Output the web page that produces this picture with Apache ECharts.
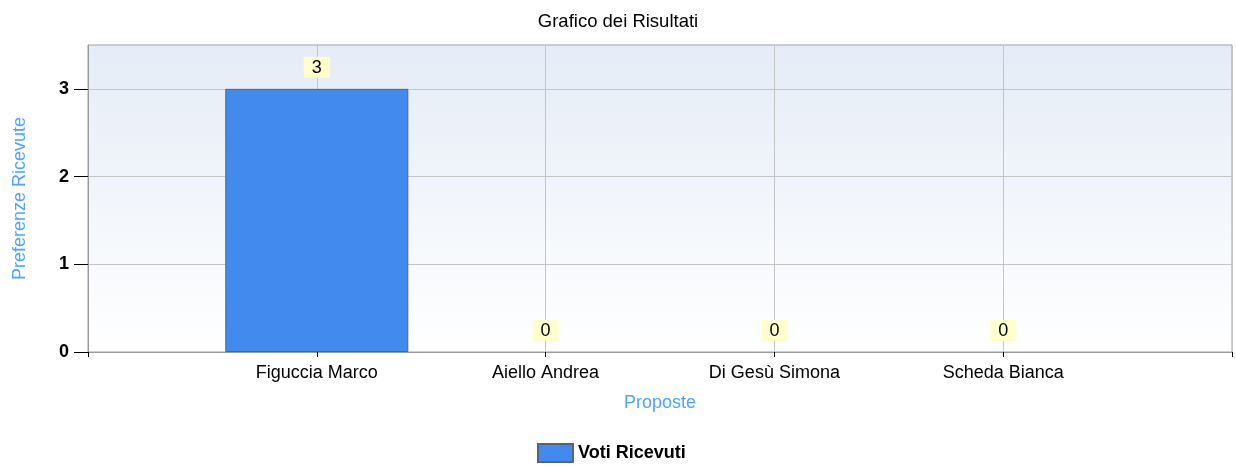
<!DOCTYPE html>
<html>
<head>
<meta charset="utf-8">
<script src="https://cdn.jsdelivr.net/npm/echarts@6/dist/echarts.min.js"></script>
<style>
html,body{margin:0;padding:0;background:#fff;}
#chart{width:1236px;height:468px;}
</style>
</head>
<body>
<div id="chart"></div>
<script>
const chartTitle = 'Grafico dei Risultati';
const categories = ['', 'Figuccia Marco', 'Aiello Andrea', 'Di Gesù Simona', 'Scheda Bianca', ''];
const values = [null, 3, 0, 0, 0, null];
const seriesName = 'Voti Ricevuti';
const yTicks = [0, 1, 2, 3];

const FONT = '"Liberation Sans", Arial, sans-serif';
const chart = echarts.init(document.getElementById('chart'), null, {renderer: 'canvas'});
chart.setOption({
  animation: false,
  title: {
    text: chartTitle,
    left: 'center',
    top: 7,
    textStyle: {fontFamily: FONT, fontSize: 18.5, fontWeight: 'normal', color: '#000'}
  },
  legend: {
    left: 537,
    top: 443,
    padding: 0,
    icon: 'rect',
    itemWidth: 35,
    itemHeight: 18,
    itemGap: 10,
    textStyle: {fontFamily: FONT, fontSize: 18, fontWeight: 'bold', color: '#000'},
    data: [seriesName]
  },
  grid: {
    left: 88, top: 45, right: 4, bottom: 116,
    outerBoundsMode: 'none',
    containLabel: false,
    show: true,
    borderColor: '#a0a0a0',
    borderWidth: 1,
    backgroundColor: new echarts.graphic.LinearGradient(0, 0, 0, 1, [
      {offset: 0, color: '#e5ecf7'},
      {offset: 1, color: '#ffffff'}
    ])
  },
  xAxis: {
    type: 'category',
    data: categories,
    boundaryGap: false,
    name: 'Proposte',
    nameLocation: 'middle',
    nameGap: 42,
    nameTextStyle: {fontFamily: FONT, fontSize: 18, color: '#4da3ff'},
    axisLine: {lineStyle: {color: '#999999'}},
    axisTick: {show: true, length: 5, lineStyle: {color: '#000'}, alignWithLabel: true},
    axisLabel: {fontFamily: FONT, fontSize: 18, color: '#000', margin: 12, interval: 0},
    splitLine: {show: true, lineStyle: {color: '#c4c4c4'}}
  },
  yAxis: {
    type: 'value',
    min: 0,
    max: 3.5,
    interval: 1,
    name: 'Preferenze Ricevute',
    nameLocation: 'middle',
    nameGap: 59,
    nameTextStyle: {fontFamily: FONT, fontSize: 18, color: '#4da3ff'},
    axisLine: {show: true, lineStyle: {color: '#999999'}},
    axisTick: {show: true, length: 14, lineStyle: {color: '#000'}, customValues: yTicks},
    axisLabel: {
      fontFamily: FONT, fontSize: 18, fontWeight: 'bold', color: '#000', margin: 19,
      customValues: yTicks,
      formatter: v => (yTicks.indexOf(v) >= 0 ? String(v) : '')
    },
    splitLine: {show: true, lineStyle: {color: '#c4c4c4'}}
  },
  series: [{
    name: seriesName,
    type: 'bar',
    data: values.map(v => (v === 0 ? {value: 0, itemStyle: {borderWidth: 0}} : v)),
    barWidth: '80%',
    itemStyle: {color: '#428aed', borderColor: '#52657e', borderWidth: 1},
    label: {
      show: true,
      position: 'top',
      distance: 11,
      fontFamily: FONT,
      fontSize: 18,
      color: '#000',
      backgroundColor: '#ffffcc',
      padding: [2, 8, 1, 8]
    }
  }]
});
</script>
</body>
</html>
